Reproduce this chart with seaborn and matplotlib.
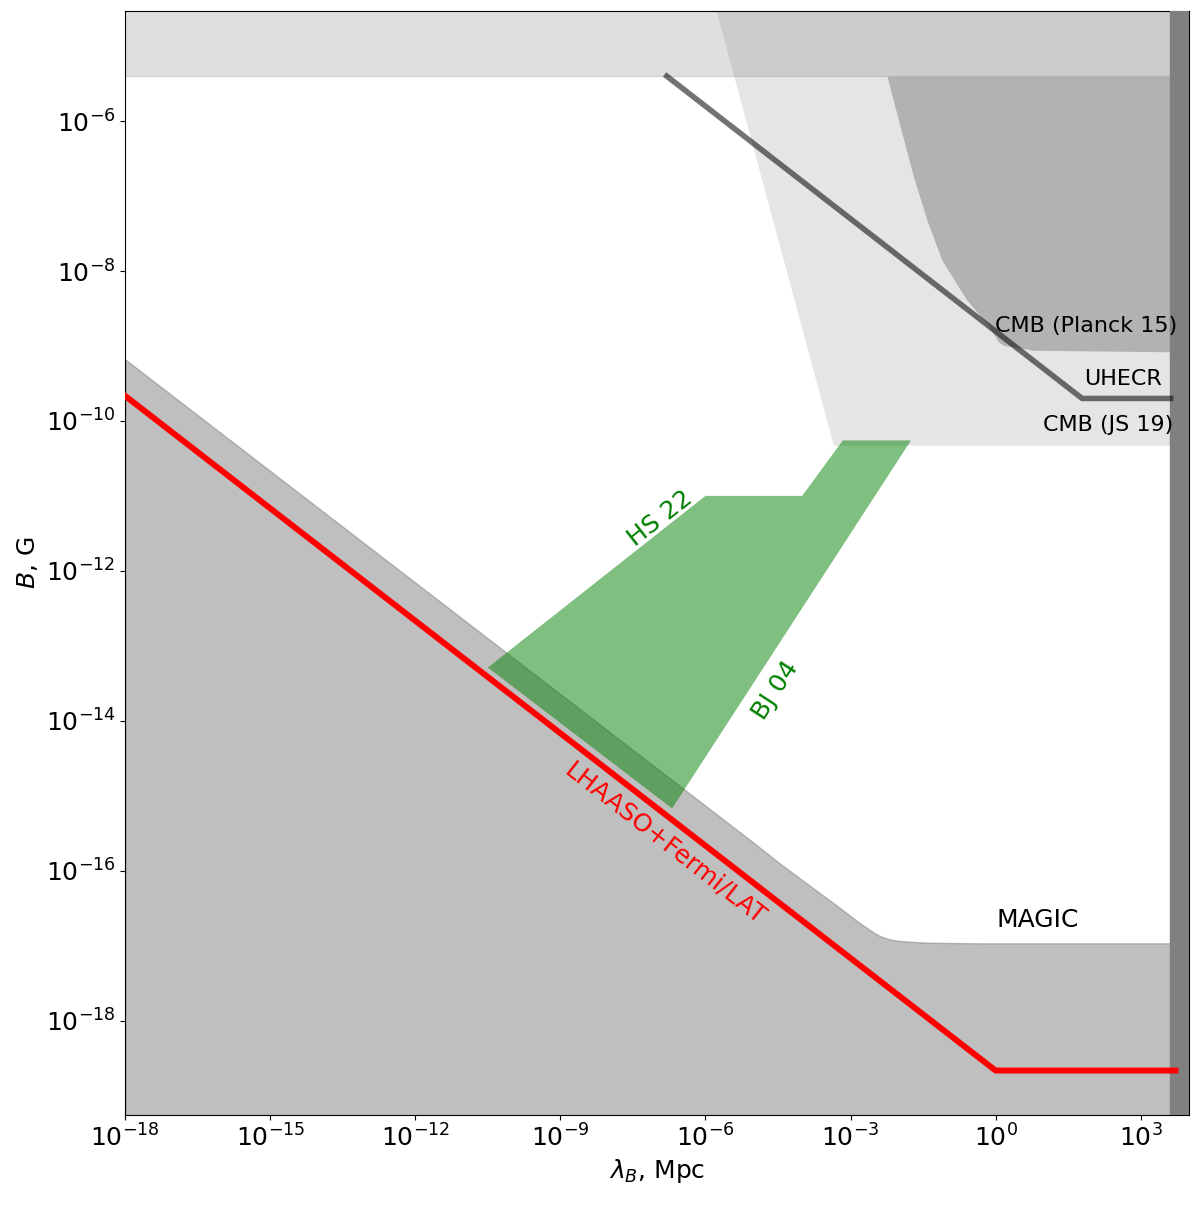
import numpy as np
import matplotlib
matplotlib.use('Agg')
import matplotlib.pyplot as plt
import matplotlib.ticker as mticker
import seaborn as sns

# all values, stored as log10 of (lambda_B [Mpc], B [G])

# LHAASO + Fermi/LAT lower bound
lhaaso_log_lam = [-18.0, 0.0, 3.72]
lhaaso_log_b = [-9.667, -18.667, -18.667]

# MAGIC excluded region (upper edge)
magic_log_lam = [-18.0, -5.0, -4.45, -3.76, -3.40, -3.07, -2.85, -2.66, -2.50, -2.38, -2.20, -2.04,
                 -1.70, -1.35, -0.30, 4.0]
magic_log_b = [-9.18, -15.63, -15.91, -16.24, -16.41, -16.57, -16.68, -16.765, -16.835, -16.875,
               -16.915, -16.935, -16.952, -16.962, -16.97, -16.97]

# UHECR line
uhecr_log_lam = [-6.80, 1.79, 3.62]
uhecr_log_b = [-5.40, -9.70, -9.70]

# CMB (JS 19) region, left / lower edge
js19_log_lam = [-6.0, -3.355, 4.0]
js19_log_b = [-4.0, -10.324, -10.324]

# CMB (Planck 15) region, lower edge
planck_log_lam = [-2.246, -1.971, -1.695, -1.418, -1.108, -0.591, -0.177, 0.063, 0.167, 0.788, 4.0]
planck_log_b = [-5.40, -6.08, -6.747, -7.324, -7.857, -8.391, -8.701, -8.947, -8.991, -9.057, -9.08]

# upper band (B above ~4e-6 G)
top_log_b = -5.40

# HS 22 / BJ 04 polygon
green_log_lam = [-10.50, -6.0, -4.0, -3.16, -1.75, -6.69]
green_log_b = [-13.29, -11.0, -11.0, -10.26, -10.26, -15.17]

# Hubble radius band
hubble_log_lam = 3.61

x_lim = (1e-18, 1e4)
y_lim = (10 ** -19.26, 10 ** -4.53)


def p10(v):
    return np.power(10.0, np.asarray(v, dtype=float))


fig = plt.figure(figsize=(12, 12.05), dpi=100)
ax = fig.add_axes([0.1044, 0.0747, 0.8864, 0.9162])
ax.set_xscale('log')
ax.set_yscale('log')

# shaded regions
ax.fill_between([x_lim[0], x_lim[1]], [10 ** top_log_b] * 2, [1e-3] * 2,
                color='grey', alpha=0.25, zorder=1)
ax.fill_between(p10(js19_log_lam), p10(js19_log_b), 1e-3,
                color='grey', alpha=0.2, lw=0, zorder=1)
ax.fill_between(p10(planck_log_lam), p10(planck_log_b), 10 ** top_log_b,
                color='grey', alpha=0.5, lw=0, zorder=1)
ax.fill_between(p10(magic_log_lam), p10(magic_log_b), 1e-21,
                color='grey', alpha=0.5, zorder=1)
ax.fill(p10(green_log_lam), p10(green_log_b), color='green', alpha=0.5, lw=0, zorder=2)
ax.axvspan(10 ** hubble_log_lam, 1e5, color='grey', zorder=3)

# lines
sns.lineplot(x=p10(uhecr_log_lam), y=p10(uhecr_log_b), ax=ax, sort=False,
             color='k', alpha=0.55, lw=4, zorder=4)
sns.lineplot(x=p10(lhaaso_log_lam), y=p10(lhaaso_log_b), ax=ax, sort=False,
             color='red', lw=4.3, zorder=5)

fs = 16
ax.text(10 ** 3.755, 10 ** -8.733, 'CMB (Planck 15)', fontsize=fs, ha='right', va='center', zorder=6)
ax.text(10 ** 3.444, 10 ** -9.435, 'UHECR', fontsize=fs, ha='right', va='center', zorder=6)
ax.text(10 ** 3.684, 10 ** -10.048, 'CMB (JS 19)', fontsize=fs, ha='right', va='center', zorder=6)
ax.text(10 ** 0.864, 10 ** -16.657, 'MAGIC', fontsize=18, ha='center', va='center', zorder=6)
ax.text(10 ** -6.937, 10 ** -11.297, 'HS 22', fontsize=18, color='green', rotation=38,
        ha='center', va='center', rotation_mode='anchor', zorder=6)
ax.text(10 ** -4.557, 10 ** -13.59, 'BJ 04', fontsize=18, color='green', rotation=57,
        ha='center', va='center', rotation_mode='anchor', zorder=6)
ax.text(10 ** -6.833, 10 ** -15.64, 'LHAASO+Fermi/LAT', fontsize=18, color='red', rotation=-38,
        ha='center', va='center', rotation_mode='anchor', zorder=6)

ax.set_xlim(*x_lim)
ax.set_ylim(*y_lim)
ax.xaxis.set_major_locator(mticker.FixedLocator(p10(np.arange(-18, 4, 3))))
ax.yaxis.set_major_locator(mticker.FixedLocator(p10(np.arange(-18, -5, 2))))
ax.xaxis.set_minor_locator(mticker.NullLocator())
ax.yaxis.set_minor_locator(mticker.NullLocator())
ax.tick_params(labelsize=18)
ax.set_xlabel(r'$\lambda_B$, Mpc', fontsize=18)
ax.set_ylabel(r'$B$, G', fontsize=18)

fig.savefig('out.png', dpi=100)
